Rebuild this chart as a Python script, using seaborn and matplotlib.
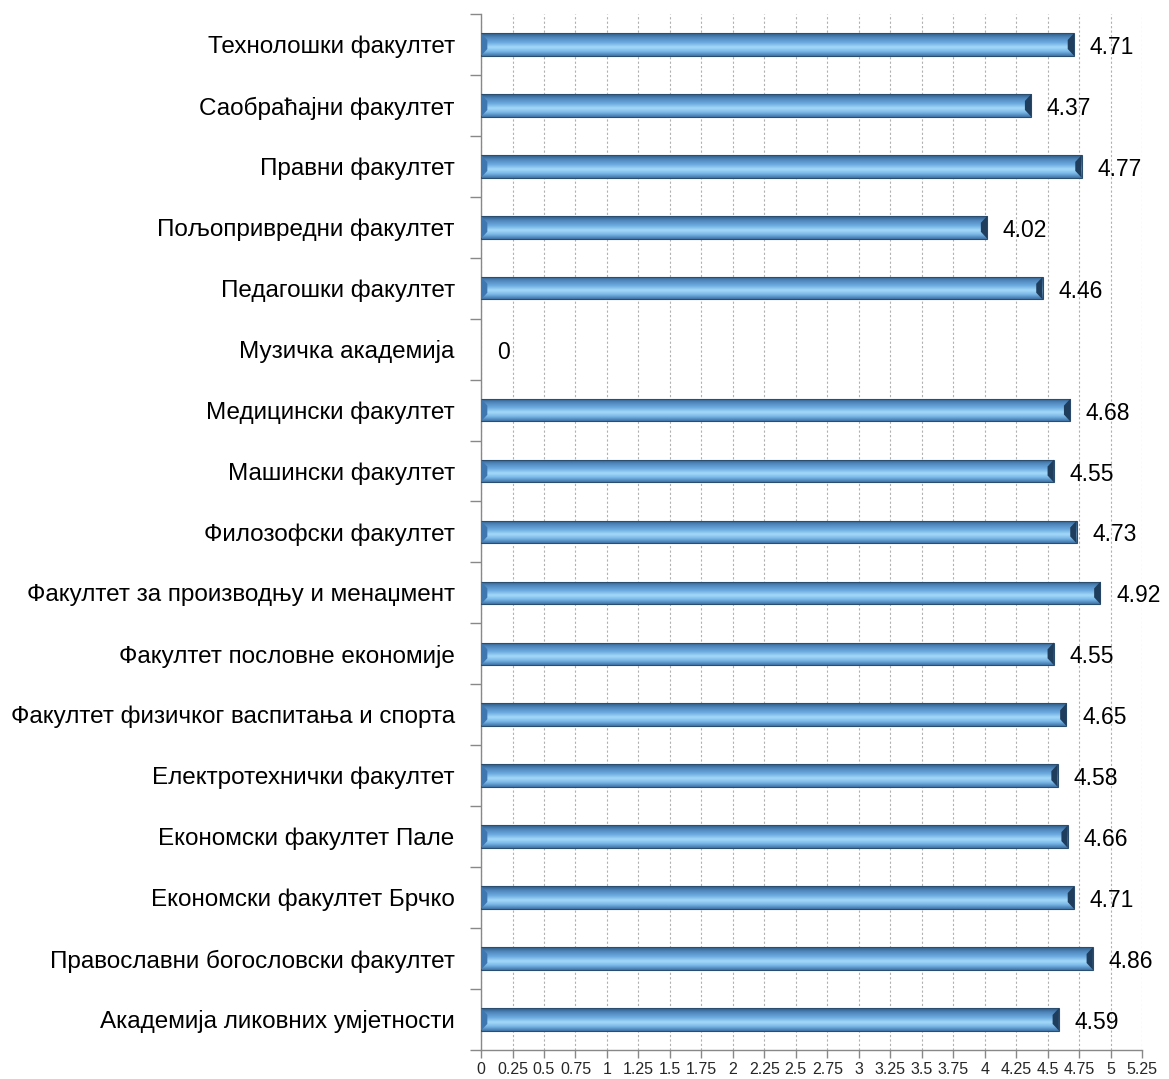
import numpy as np
import pandas as pd
import matplotlib
matplotlib.use('Agg')
import matplotlib.pyplot as plt
import seaborn as sns
from matplotlib.colors import LinearSegmentedColormap

fakulteti = [
    'Технолошки факултет',
    'Саобраћајни факултет',
    'Правни факултет',
    'Пољопривредни факултет',
    'Педагошки факултет',
    'Музичка академија',
    'Медицински факултет',
    'Машински факултет',
    'Филозофски факултет',
    'Факултет за производњу и менаџмент',
    'Факултет пословне економије',
    'Факултет физичког васпитања и спорта',
    'Електротехнички факултет',
    'Економски факултет Пале',
    'Економски факултет Брчко',
    'Православни богословски факултет',
    'Академија ликовних умјетности',
]
ocjene = [4.71, 4.37, 4.77, 4.02, 4.46, 0, 4.68, 4.55, 4.73, 4.92,
          4.55, 4.65, 4.58, 4.66, 4.71, 4.86, 4.59]
x_ticks = [0, 0.25, 0.5, 0.75, 1, 1.25, 1.5, 1.75, 2, 2.25, 2.5, 2.75,
           3, 3.25, 3.5, 3.75, 4, 4.25, 4.5, 4.75, 5, 5.25]
x_tick_labels = ['0', '0.25', '0.5', '0.75', '1', '1.25', '1.5', '1.75', '2',
                 '2.25', '2.5', '2.75', '3', '3.25', '3.5', '3.75', '4',
                 '4.25', '4.5', '4.75', '5', '5.25']

data = pd.DataFrame({'Fakultet': fakulteti, 'Ocjena': ocjene})

sns.set_style('white')
plt.rcParams['font.family'] = ['Liberation Sans', 'DejaVu Sans']

fig = plt.figure(figsize=(11.69, 10.79), dpi=100)
ax = fig.add_axes([0.4115, 0.027, 0.5654, 0.960])

sns.barplot(data=data, x='Ocjena', y='Fakultet', order=fakulteti, orient='h',
            width=0.37, color='#5b9bd5', ax=ax)

# gradijent na stubicima
grad_cmap = LinearSegmentedColormap.from_list('bevel', [
    (0.0, '#2c5a85'), (0.18, '#4f86bb'), (0.40, '#6aa8de'),
    (0.62, '#a4dafa'), (0.80, '#7ab8e8'), (1.0, '#3e74a8')])
grad = np.linspace(0, 1, 64).reshape(-1, 1)
for p in ax.patches:
    w = p.get_width()
    if w <= 0:
        continue
    x0, y0, h = p.get_x(), p.get_y(), p.get_height()
    p.set_facecolor('none')
    p.set_edgecolor('#2b4d70')
    p.set_linewidth(0.8)
    im = ax.imshow(grad, cmap=grad_cmap, aspect='auto',
                   extent=[x0, x0 + w, y0 + h, y0], zorder=2,
                   interpolation='bicubic')
    im.set_clip_path(p)
    p.set_zorder(3)
    # tamni kraj stubica
    ax.fill([x0 + w - 0.05, x0 + w, x0 + w, x0 + w - 0.05],
            [y0 + h * 0.3, y0, y0 + h, y0 + h * 0.7],
            color='#1f3d5c', zorder=3, lw=0)
    ax.fill([x0, x0 + 0.05, x0 + 0.05, x0],
            [y0, y0 + h * 0.3, y0 + h * 0.7, y0 + h],
            color='#3f78b0', zorder=3, lw=0)

for i, v in enumerate(ocjene):
    ax.text(v + 0.125, i + 0.05, f'{v:g}', va='center', ha='left',
            fontsize=16.5, color='black')

ax.set_xlim(0, 5.25)
ax.set_ylim(len(fakulteti) - 0.5, -0.5)
ax.set_xticks(x_ticks)
ax.set_xticklabels(x_tick_labels, fontsize=11.5,
                   family=['Liberation Sans Narrow', 'Liberation Sans'])
ax.set_xlabel('')
ax.set_ylabel('')
ax.grid(axis='x', linestyle=(0, (2, 2)), color='#b0b0b0', linewidth=0.8)
ax.set_axisbelow(True)

ax.set_yticks(range(len(fakulteti)))
ax.set_yticklabels(fakulteti, fontsize=17.5, color='black')
ax.tick_params(axis='y', which='major', length=0, pad=19, left=False)
ax.set_yticks(np.arange(-0.5, len(fakulteti), 1), minor=True)
ax.tick_params(axis='y', which='minor', left=True, length=8, color='#888888', width=1)
ax.tick_params(axis='x', bottom=True, length=6, color='#888888', width=1, pad=3)

for s in ['top', 'right']:
    ax.spines[s].set_visible(False)
for s in ['left', 'bottom']:
    ax.spines[s].set_color('#888888')
    ax.spines[s].set_linewidth(1)

plt.savefig('out.png', dpi=100)
